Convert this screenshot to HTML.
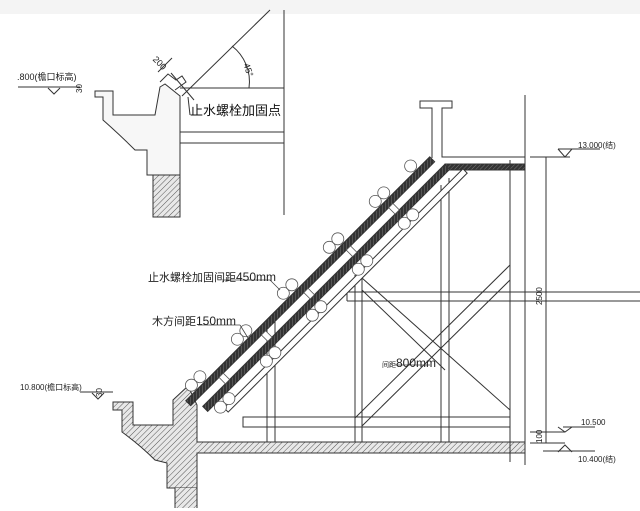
<!DOCTYPE html>
<html><head><meta charset="utf-8"><style>
html,body{margin:0;padding:0;background:#fff;}
svg{display:block;}
text{font-family:"Liberation Sans","Noto Sans CJK SC",sans-serif;}
</style></head><body>
<svg width="640" height="511" viewBox="0 0 640 511" xmlns="http://www.w3.org/2000/svg">
<defs>
<pattern id="h" width="4" height="4" patternUnits="userSpaceOnUse" patternTransform="rotate(45)">
<rect width="4" height="4" fill="#e8e8e8"/><line x1="0" y1="0" x2="0" y2="4" stroke="#555" stroke-width="1"/>
</pattern>
<pattern id="d" width="3" height="3" patternUnits="userSpaceOnUse" patternTransform="rotate(45)">
<rect width="3" height="3" fill="#333"/><line x1="0" y1="0" x2="0" y2="3" stroke="#777" stroke-width="1"/>
</pattern>
</defs>
<rect width="640" height="511" fill="#fff"/>
<rect width="640" height="14" fill="#f4f4f4"/>

<!-- TOP-LEFT DETAIL -->
<g stroke="#333" fill="none" stroke-width="1">
<line x1="18" y1="87" x2="80" y2="87"/>
<path d="M48 88 L54 94 L60 88"/>
<line x1="284" y1="10" x2="284" y2="215"/>
<line x1="182" y1="96" x2="270" y2="10"/>
<line x1="180" y1="88" x2="284" y2="88"/>
<line x1="180" y1="132" x2="284" y2="132"/>
<line x1="180" y1="143" x2="284" y2="143"/>
<path d="M232 46 A45 45 0 0 1 249 88"/>
<path d="M95 91 L113 91 L113 115 L155 115 L160 87 L165 84 L180 96 L180 175 L147 175 L147 150 L135 150 Q120 135 103 120 L103 97 L95 97 Z" fill="#f7f7f7"/>
<path d="M160 82 L168 74 L176 80 L182 76 L186 82 L175 90" />
<line x1="171" y1="73" x2="194" y2="100"/>
<line x1="158" y1="72" x2="172" y2="58"/>
<rect x="153" y="175" width="27" height="42" fill="url(#h)"/>
<line x1="188" y1="97" x2="190" y2="115"/>
</g>
<text x="17" y="80" font-size="9" fill="#222">.800(檐口标高)</text>
<text x="73" y="92" font-size="8" fill="#222" transform="rotate(-90 78 88)">30</text>
<text x="153" y="66" font-size="9" fill="#222" transform="rotate(45 160 62)">200</text>
<text x="245" y="70" font-size="9" fill="#222" transform="rotate(70 248 66)">45°</text>
<text x="190" y="115" font-size="13" fill="#111">止水螺栓加固点</text>

<!-- LOWER STRUCTURE -->
<g stroke="#333" fill="none" stroke-width="1">
<path d="M113 402 L133 402 L133 425 L173 425 L173 400 L188 386 L197 405 L197 442 L525 442 L525 453 L197 453 L197 488 L167 488 L167 463 L155 460 Q140 445 122 432 L122 410 L113 410 Z" fill="url(#h)"/>
<rect x="175" y="488" width="22" height="20" fill="url(#h)" stroke="none"/>
<line x1="175" y1="488" x2="175" y2="508"/><line x1="197" y1="488" x2="197" y2="508"/>
<line x1="525" y1="95" x2="525" y2="465"/>
<path d="M432 158 L432 108 L420 108 L420 101 L452 101 L452 108 L442 108 L442 157 L525 157"/>
<rect x="445" y="164" width="80" height="6" fill="url(#d)"/>
<line x1="267" y1="330" x2="267" y2="442"/><line x1="275" y1="322" x2="275" y2="442"/>
<line x1="355" y1="275" x2="355" y2="442"/><line x1="362" y1="270" x2="362" y2="442"/>
<line x1="441" y1="185" x2="441" y2="442"/><line x1="449" y1="178" x2="449" y2="442"/>
<line x1="510" y1="160" x2="510" y2="462"/>
<line x1="347" y1="292" x2="640" y2="292"/><line x1="347" y1="301" x2="640" y2="301"/><line x1="347" y1="292" x2="347" y2="301"/>
<rect x="243" y="417" width="267" height="10"/>
<line x1="362" y1="278" x2="510" y2="410"/><line x1="362" y1="290" x2="445" y2="370"/>
<line x1="355" y1="418" x2="510" y2="265"/><line x1="362" y1="426" x2="510" y2="280"/>
<line x1="546" y1="157" x2="546" y2="443"/>
<line x1="530" y1="157" x2="570" y2="157"/>
<path d="M558 149 L565 157 L572 149"/><line x1="558" y1="149" x2="600" y2="149"/>
<line x1="530" y1="432" x2="565" y2="432"/><line x1="530" y1="443" x2="565" y2="443"/>
<path d="M558 427 L565 432 L572 427"/><line x1="563" y1="427" x2="595" y2="427"/>
<path d="M558 452 L565 445 L572 452"/><line x1="543" y1="451" x2="595" y2="451"/>
<line x1="80" y1="392" x2="113" y2="392"/>
<path d="M92 393 L98 399 L104 393"/>
</g>
<!-- slope -->
<g transform="translate(190,405) rotate(-45)" stroke="#333" stroke-width="1">
<rect x="0" y="-6" width="345" height="7" fill="url(#d)"/>
<rect x="8" y="10" width="342" height="7" fill="url(#d)"/>
<rect x="22" y="26" width="338" height="6" fill="#fff"/>
<g fill="#fff" stroke="#555" stroke-width="0.8">
<rect x="40" y="1" width="6" height="9"/><rect x="100" y="1" width="6" height="9"/><rect x="160" y="1" width="6" height="9"/><rect x="220" y="1" width="6" height="9"/><rect x="280" y="1" width="6" height="9"/>
<circle cx="15" cy="-13" r="6"/><circle cx="27" cy="-13" r="6"/>
<circle cx="80" cy="-13" r="6"/><circle cx="92" cy="-13" r="6"/>
<circle cx="145" cy="-13" r="6"/><circle cx="157" cy="-13" r="6"/>
<circle cx="210" cy="-13" r="6"/><circle cx="222" cy="-13" r="6"/>
<circle cx="275" cy="-13" r="6"/><circle cx="287" cy="-13" r="6"/>
<circle cx="325" cy="-13" r="6"/>
<circle cx="20" cy="23" r="6"/><circle cx="32" cy="23" r="6"/>
<circle cx="85" cy="23" r="6"/><circle cx="97" cy="23" r="6"/>
<circle cx="150" cy="23" r="6"/><circle cx="162" cy="23" r="6"/>
<circle cx="215" cy="23" r="6"/><circle cx="227" cy="23" r="6"/>
<circle cx="280" cy="23" r="6"/><circle cx="292" cy="23" r="6"/>
</g>
</g>
<g stroke="#444" fill="none" stroke-width="0.8">
<line x1="222" y1="280" x2="270" y2="280"/><line x1="270" y1="280" x2="280" y2="290"/>
<line x1="198" y1="325" x2="240" y2="325"/><line x1="240" y1="325" x2="248" y2="338"/>
<line x1="395" y1="365" x2="430" y2="365"/>
</g>
<text x="148" y="281" font-size="11" fill="#222">止水螺栓加固间距<tspan font-size="12">450mm</tspan></text>
<text x="152" y="325" font-size="11" fill="#222">木方间距<tspan font-size="12">150mm</tspan></text>
<text x="382" y="367" font-size="7" fill="#222">间距<tspan font-size="12">800mm</tspan></text>
<text x="578" y="148" font-size="8" fill="#222">13.000(结)</text>
<text x="581" y="425" font-size="8" fill="#222">10.500</text>
<text x="578" y="462" font-size="8" fill="#222">10.400(结)</text>
<text x="20" y="390" font-size="8" fill="#222">10.800(檐口标高)</text>
<text x="0" y="0" font-size="8" fill="#222" transform="translate(542,305) rotate(-90)">2500</text>
<text x="0" y="0" font-size="8" fill="#222" transform="translate(542,443) rotate(-90)">100</text>
<text x="0" y="0" font-size="8" fill="#222" transform="translate(102,397) rotate(-90)">30</text>
</svg>
</body></html>
